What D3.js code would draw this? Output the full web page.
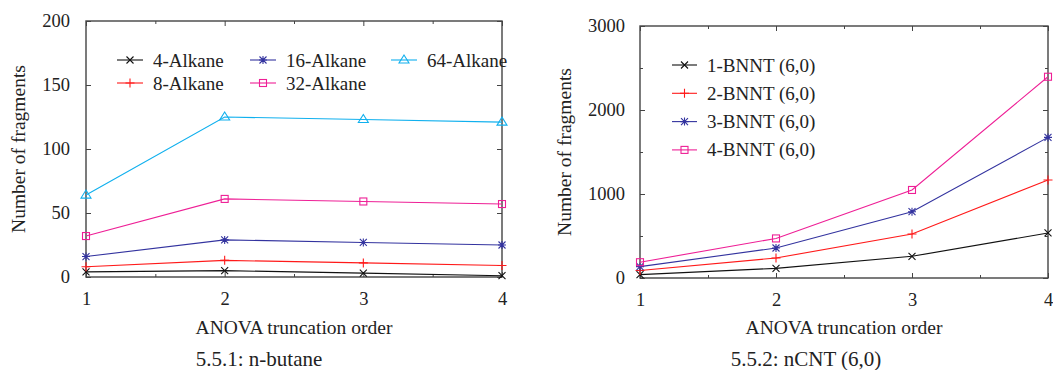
<!DOCTYPE html>
<html>
<head>
<meta charset="utf-8">
<script src="https://cdn.jsdelivr.net/npm/d3@7"></script>
<style>
  body { margin: 0; background: #fff; }
  svg text { font-family: "Liberation Serif", serif; fill: #222; }
</style>
</head>
<body>
<svg id="chart" width="1053" height="370" font-family="Liberation Serif"></svg>
<script>
// truncation orders on the x axis
const orders = [1, 2, 3, 4];

// left panel: n-butane
const alkaneNames = ["4-Alkane", "8-Alkane", "16-Alkane", "32-Alkane", "64-Alkane"];
const alkane4 = [4, 5, 3, 1];
const alkane8 = [8, 13, 11, 9];
const alkane16 = [16, 29, 27, 25];
const alkane32 = [32, 61, 59, 57];
const alkane64 = [64, 125, 123, 121];
const alkaneTicks = [0, 50, 100, 150, 200];

// right panel: nCNT (6,0)
const bnntNames = ["1-BNNT (6,0)", "2-BNNT (6,0)", "3-BNNT (6,0)", "4-BNNT (6,0)"];
const bnnt1 = [40, 115, 258, 536];
const bnnt2 = [90, 238, 524, 1167];
const bnnt3 = [135, 357, 789, 1674];
const bnnt4 = [188, 471, 1048, 2396];
const bnntTicks = [0, 1000, 2000, 3000];

const colors = ["#111111", "#ff1a1a", "#33339f", "#ee1f96", "#10b0ee"];
const markers = ["cross", "plus", "star", "square", "triangle"];

const svg = d3.select("#chart");
const FONT = "Liberation Serif";

function marker(g, type, x, y, color) {
    const s = 3.5;
    if (type === "cross") {
        g.append("path").attr("d", `M${x-s},${y-s}L${x+s},${y+s}M${x-s},${y+s}L${x+s},${y-s}`)
            .attr("stroke", color).attr("stroke-width", 1.1);
    } else if (type === "plus") {
        g.append("path").attr("d", `M${x-s-1},${y}L${x+s+1},${y}M${x},${y-s-1}L${x},${y+s+1}`)
            .attr("stroke", color).attr("stroke-width", 1.1);
    } else if (type === "star") {
        g.append("path").attr("d", `M${x-s},${y-s}L${x+s},${y+s}M${x-s},${y+s}L${x+s},${y-s}M${x-s-0.5},${y}L${x+s+0.5},${y}M${x},${y-s-0.5}L${x},${y+s+0.5}`)
            .attr("stroke", color).attr("stroke-width", 1.1);
    } else if (type === "square") {
        g.append("rect").attr("x", x - s).attr("y", y - s).attr("width", 2 * s).attr("height", 2 * s)
            .attr("fill", "none").attr("stroke", color).attr("stroke-width", 1.1);
    } else if (type === "triangle") {
        g.append("path").attr("d", `M${x},${y-s-1.5}L${x+s+1.5},${y+s-0.5}L${x-s-1.5},${y+s-0.5}Z`)
            .attr("fill", "none").attr("stroke", color).attr("stroke-width", 1.1);
    }
}

function panel(opts) {
    const g = svg.append("g");
    const x = d3.scaleLinear().domain([1, 4]).range([opts.x0, opts.x1]);
    const y = d3.scaleLinear().domain([0, opts.ymax]).range([opts.y0, opts.y1]);
    const minorX = [1.5, 2.5, 3.5];
    const minorY = opts.minorY;

    // frame
    g.append("rect").attr("x", opts.x0).attr("y", opts.y1)
        .attr("width", opts.x1 - opts.x0).attr("height", opts.y0 - opts.y1)
        .attr("fill", "none").attr("stroke", "#444").attr("stroke-width", 1.4);

    // ticks on all four sides, pointing inward
    const tickStyle = sel => { sel.select(".domain").remove(); sel.selectAll("line").attr("stroke", "#444"); };
    g.append("g").attr("transform", `translate(0,${opts.y0})`)
        .call(d3.axisBottom(x).tickValues(orders).tickSize(-5).tickPadding(15).tickFormat(d3.format("d")))
        .call(tickStyle);
    g.append("g").attr("transform", `translate(0,${opts.y0})`)
        .call(d3.axisBottom(x).tickValues(minorX).tickSize(-3).tickFormat("")).call(tickStyle);
    g.append("g").attr("transform", `translate(0,${opts.y1})`)
        .call(d3.axisTop(x).tickValues(orders).tickSize(-5).tickFormat("")).call(tickStyle);
    g.append("g").attr("transform", `translate(0,${opts.y1})`)
        .call(d3.axisTop(x).tickValues(minorX).tickSize(-3).tickFormat("")).call(tickStyle);
    g.append("g").attr("transform", `translate(${opts.x0},0)`)
        .call(d3.axisLeft(y).tickValues(opts.ticks).tickSize(-5).tickPadding(opts.yPad).tickFormat(d3.format("d")))
        .call(tickStyle);
    g.append("g").attr("transform", `translate(${opts.x1},0)`)
        .call(d3.axisRight(y).tickValues(opts.ticks).tickSize(-5).tickFormat("")).call(tickStyle);
    if (minorY) {
        g.append("g").attr("transform", `translate(${opts.x0},0)`)
            .call(d3.axisLeft(y).tickValues(minorY).tickSize(-3).tickFormat("")).call(tickStyle);
        g.append("g").attr("transform", `translate(${opts.x1},0)`)
            .call(d3.axisRight(y).tickValues(minorY).tickSize(-3).tickFormat("")).call(tickStyle);
    }
    g.selectAll("g").attr("font-family", FONT);
    g.selectAll(".tick text").attr("font-size", 18.5).attr("font-family", FONT).attr("fill", "#222");

    // series
    const line = d3.line().x((d, i) => x(orders[i])).y(d => y(d));
    opts.series.forEach((vals, k) => {
        g.append("path").datum(vals).attr("d", line)
            .attr("fill", "none").attr("stroke", colors[k]).attr("stroke-width", 1.1);
        vals.forEach((v, i) => marker(g, markers[k], x(orders[i]), y(v), colors[k]));
    });

    // legend
    opts.names.forEach((name, k) => {
        const p = opts.legendPos(k);
        g.append("line").attr("x1", p[0]).attr("x2", p[0] + opts.legLine)
            .attr("y1", p[1]).attr("y2", p[1]).attr("stroke", colors[k]).attr("stroke-width", 1.1);
        marker(g, markers[k], p[0] + opts.legLine / 2, p[1], colors[k]);
        g.append("text").attr("x", p[0] + opts.legLine + 10).attr("y", p[1] + 6.5)
            .attr("font-family", FONT).attr("font-size", 19).text(name);
    });

    // axis titles and caption
    g.append("text").attr("x", (opts.x0 + opts.x1) / 2).attr("y", 334)
        .attr("text-anchor", "middle").attr("font-family", FONT).attr("font-size", 19.5)
        .text("ANOVA truncation order");
    g.append("text").attr("transform", `translate(${opts.ylabX},${(opts.y0 + opts.y1) / 2}) rotate(-90)`)
        .attr("text-anchor", "middle").attr("font-family", FONT).attr("font-size", 19.5)
        .text("Number of fragments");
    g.append("text").attr("x", opts.capX).attr("y", 366)
        .attr("text-anchor", "middle").attr("font-family", FONT).attr("font-size", 21).text(opts.caption);
}

panel({
    x0: 86, x1: 502, y0: 277, y1: 21, ymax: 200,
    ticks: alkaneTicks, minorY: null, yPad: 16,
    series: [alkane4, alkane8, alkane16, alkane32, alkane64],
    names: alkaneNames,
    legLine: 26,
    legendPos: k => [[117, 60], [117, 83], [250, 60], [250, 83], [391, 60]][k],
    ylabX: 25, capX: 259, caption: "5.5.1: n-butane"
});

panel({
    x0: 640, x1: 1048, y0: 278, y1: 26, ymax: 3000,
    ticks: bnntTicks, minorY: [500, 1500, 2500], yPad: 15,
    series: [bnnt1, bnnt2, bnnt3, bnnt4],
    names: bnntNames,
    legLine: 25,
    legendPos: k => [672, 65 + k * 28.3],
    ylabX: 571, capX: 806, caption: "5.5.2: nCNT (6,0)"
});
</script>
</body>
</html>
